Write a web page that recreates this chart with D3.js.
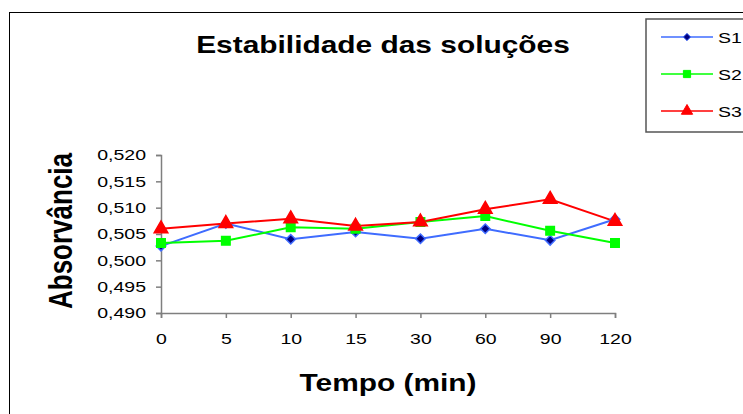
<!DOCTYPE html>
<html>
<head>
<meta charset="utf-8">
<script src="https://cdn.jsdelivr.net/npm/d3@7"></script>
<style>
  html, body { margin: 0; padding: 0; background: #fff; }
  svg { display: block; font-family: "Liberation Sans", Arial, sans-serif; }
</style>
</head>
<body>
<svg id="chart" width="743" height="414"></svg>
<script>
// Absorbance readings over time for three solutions
const tempos = ["0", "5", "10", "15", "30", "60", "90", "120"];
const s1 = [0.5027, 0.5070, 0.5040, 0.5054, 0.5041, 0.5060, 0.5038, 0.5078];
const s2 = [0.5033, 0.5037, 0.5063, 0.5060, 0.5073, 0.5084, 0.5056, 0.5033];
const s3 = [0.5060, 0.5070, 0.5079, 0.5065, 0.5073, 0.5097, 0.5116, 0.5074];
const yTicks = [0.490, 0.495, 0.500, 0.505, 0.510, 0.515, 0.520];
const seriesNames = ["S1", "S2", "S3"];

const series = [
  { name: seriesNames[0], values: s1, line: "#3f6cff", fill: "#000080", stroke: "#3f6cff", shape: "diamond" },
  { name: seriesNames[1], values: s2, line: "#00ff00", fill: "#00ff00", stroke: "#00ff00", shape: "square" },
  { name: seriesNames[2], values: s3, line: "#ff0000", fill: "#ff0000", stroke: "#ff0000", shape: "triangle" }
];

// text in this chart is drawn slightly wide
const WIDE = 1.3;

const svg = d3.select("#chart");
const fmt = v => d3.format(".3f")(v).replace(".", ",");

// Chart frame
svg.append("rect").attr("x", 9.5).attr("y", 12.5).attr("width", 760).attr("height", 420)
  .attr("fill", "#fff").attr("stroke", "#000").attr("stroke-width", 1);

const x = d3.scalePoint().domain(tempos).range([161, 615]);
const y = d3.scaleLinear().domain([0.490, 0.520]).range([313, 155]);

// Axes
const yAxis = svg.append("g").attr("transform", "translate(161,0)")
  .call(d3.axisLeft(y).tickValues(yTicks).tickFormat(fmt).tickSize(5).tickPadding(10));
const xAxis = svg.append("g").attr("transform", "translate(0,313)")
  .call(d3.axisBottom(x).tickSize(5).tickPadding(15));
[yAxis, xAxis].forEach(g => {
  g.select(".domain").attr("stroke", "#7f7f7f").attr("stroke-width", 1.5);
  g.selectAll(".tick line").attr("stroke", "#7f7f7f").attr("stroke-width", 1.5);
  g.selectAll(".tick text").attr("fill", "#000").style("font-size", "15px")
    .style("font-family", "Liberation Sans, Arial, sans-serif")
    .each(function () {
      const t = d3.select(this);
      const tx = +t.attr("x") || 0;
      t.attr("x", 0).attr("transform", `translate(${tx},0) scale(${WIDE},1)`);
    });
});

// Marker shapes (plot size, legend size)
const symbolOf = {
  diamond: [d3.symbol().type(d3.symbolDiamond2).size(58), d3.symbol().type(d3.symbolDiamond2).size(34)],
  square: [d3.symbol().type(d3.symbolSquare).size(72), d3.symbol().type(d3.symbolSquare).size(52)],
  triangle: [d3.symbol().type(d3.symbolTriangle).size(80), d3.symbol().type(d3.symbolTriangle).size(55)]
};

const line = d3.line().x((d, i) => x(tempos[i])).y(d => y(d));

series.forEach(s => {
  svg.append("path").datum(s.values).attr("d", line)
    .attr("fill", "none").attr("stroke", s.line).attr("stroke-width", 2);
});
series.forEach(s => {
  svg.append("g").selectAll("path").data(s.values).join("path")
    .attr("transform", (d, i) => `translate(${x(tempos[i])},${y(d)})`)
    .attr("d", symbolOf[s.shape][0])
    .attr("fill", s.fill).attr("stroke", s.stroke).attr("stroke-width", 1.5)
    .attr("stroke-linejoin", "miter");
});

// Titles
svg.append("text").attr("transform", `translate(383,53) scale(${WIDE},1)`).attr("text-anchor", "middle")
  .style("font-size", "23px").style("font-weight", "bold").text("Estabilidade das soluções");
svg.append("text").attr("transform", `translate(388,391) scale(${WIDE},1)`).attr("text-anchor", "middle")
  .style("font-size", "23px").style("font-weight", "bold").text("Tempo (min)");
svg.append("text").attr("transform", `translate(72,231) scale(${WIDE},1) rotate(-90)`).attr("text-anchor", "middle")
  .style("font-size", "26px").style("font-weight", "bold").text("Absorvância");

// Legend
const legend = svg.append("g");
legend.append("rect").attr("x", 646).attr("y", 19).attr("width", 120).attr("height", 113)
  .attr("fill", "#fff").attr("stroke", "#555").attr("stroke-width", 1.5);
series.forEach((s, i) => {
  const ly = 37 + i * 37;
  legend.append("line").attr("x1", 661).attr("x2", 713).attr("y1", ly).attr("y2", ly)
    .attr("stroke", s.line).attr("stroke-width", 1.5);
  legend.append("path").attr("transform", `translate(687,${ly})`).attr("d", symbolOf[s.shape][1])
    .attr("fill", s.fill).attr("stroke", s.stroke).attr("stroke-width", 1);
  legend.append("text").attr("transform", `translate(718,${ly + 5.5}) scale(${WIDE},1)`)
    .style("font-size", "15px").text(s.name);
});
</script>
</body>
</html>
